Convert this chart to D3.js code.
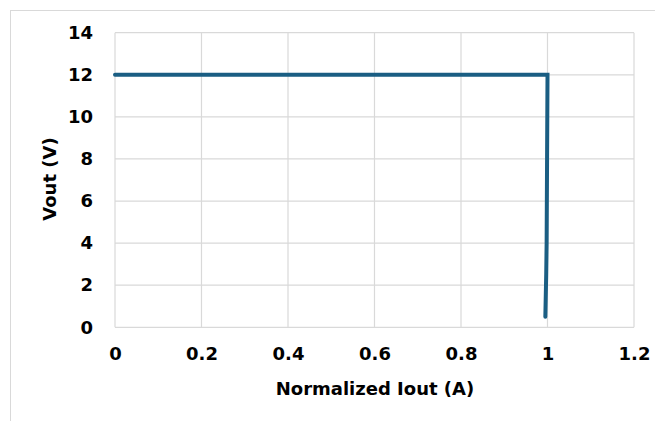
<!DOCTYPE html>
<html><head><meta charset="utf-8">
<script src="https://cdn.jsdelivr.net/npm/d3@7"></script>
<style>body{margin:0;background:#fff}svg{display:block}</style>
</head><body>
<svg id="c" width="655" height="421"></svg>
<script>
const iout = [0, 0.2, 0.4, 0.6, 0.8, 1.0, 1.0, 0.999, 0.998, 0.997, 0.995];
const vout = [12, 12, 12, 12, 12, 12, 11.9, 8, 4, 2.5, 0.5];
const xTicks = [0, 0.2, 0.4, 0.6, 0.8, 1, 1.2];
const yTicks = [0, 2, 4, 6, 8, 10, 12, 14];
const xTitle = "Normalized Iout (A)";
const yTitle = "Vout (V)";

const svg = d3.select("#c");
const m = {l:115, r:634, t:32.7, b:327.3};
const x = d3.scaleLinear().domain([0,1.2]).range([m.l, m.r]);
const y = d3.scaleLinear().domain([0,14]).range([m.b, m.t]);
const font = "'DejaVu Sans', sans-serif";

svg.append("rect").attr("x",10.5).attr("y",10.5).attr("width",700).attr("height",500)
  .attr("fill","#fff").attr("stroke","#d9d9d9");

const g = svg.append("g");
g.selectAll(".gx").data(xTicks).join("line")
  .attr("x1",d=>x(d)).attr("x2",d=>x(d)).attr("y1",m.t).attr("y2",m.b)
  .attr("stroke","#d9d9d9").attr("stroke-width",1.2);
g.selectAll(".gy").data(yTicks).join("line")
  .attr("y1",d=>y(d)).attr("y2",d=>y(d)).attr("x1",m.l).attr("x2",m.r)
  .attr("stroke","#d9d9d9").attr("stroke-width",1.2);

const xa = svg.append("g").attr("transform",`translate(0,${m.b})`)
  .call(d3.axisBottom(x).tickValues(xTicks).tickSize(0).tickPadding(20).tickFormat(d3.format("")));
const ya = svg.append("g").attr("transform",`translate(${m.l},0)`)
  .call(d3.axisLeft(y).tickValues(yTicks).tickSize(0).tickPadding(22).tickFormat(d3.format("")));
[xa,ya].forEach(a=>{a.select(".domain").remove();
  a.selectAll("text").attr("font-family",font).attr("font-weight","bold").attr("font-size",18).attr("fill","#000");});

svg.append("path").datum(iout.map((d,i)=>[d,vout[i]]))
  .attr("d", d3.line().x(d=>x(d[0])).y(d=>y(d[1])))
  .attr("fill","none").attr("stroke","#1a5e83").attr("stroke-width",4)
  .attr("stroke-linejoin","miter").attr("stroke-linecap","round");

svg.append("text").attr("x",375).attr("y",395).attr("text-anchor","middle")
  .attr("font-family",font).attr("font-weight","bold").attr("font-size",18).text(xTitle);
svg.append("text").attr("transform","translate(56,179) rotate(-90)").attr("text-anchor","middle")
  .attr("font-family",font).attr("font-weight","bold").attr("font-size",18).text(yTitle);
</script>
</body></html>
